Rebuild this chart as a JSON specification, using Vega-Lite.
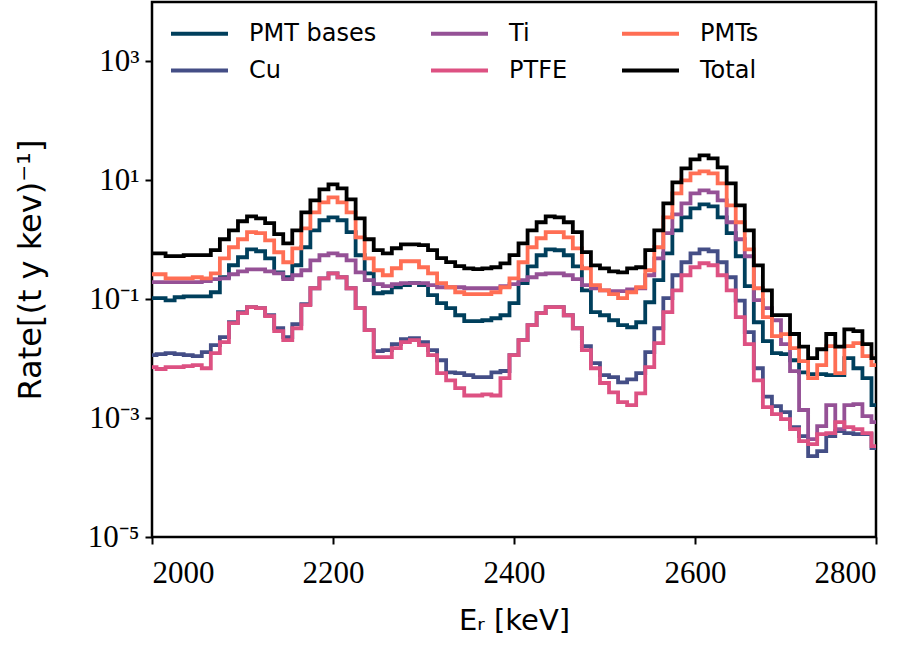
{
"$schema": "https://vega.github.io/schema/vega-lite/v6.json",
"width": 724, "height": 535,
"autosize": {"type": "none"},
"padding": {"left": 152, "top": 2, "right": 36, "bottom": 110},
"background": "white",
"config": {"view": {"stroke": "black", "strokeWidth": 2.5}},
"data": {"values": [
{"E":2000,"PMT bases":0.104,"Cu":0.0115,"Ti":0.194,"PTFE":0.0072,"PMTs":0.263,"Total":0.59},
{"E":2010,"PMT bases":0.104,"Cu":0.0119,"Ti":0.194,"PTFE":0.0067,"PMTs":0.263,"Total":0.59},
{"E":2020,"PMT bases":0.096,"Cu":0.0124,"Ti":0.194,"PTFE":0.0072,"PMTs":0.225,"Total":0.53},
{"E":2030,"PMT bases":0.108,"Cu":0.0119,"Ti":0.194,"PTFE":0.0072,"PMTs":0.225,"Total":0.53},
{"E":2040,"PMT bases":0.112,"Cu":0.0115,"Ti":0.194,"PTFE":0.0075,"PMTs":0.225,"Total":0.55},
{"E":2050,"PMT bases":0.112,"Cu":0.011,"Ti":0.194,"PTFE":0.0078,"PMTs":0.234,"Total":0.55},
{"E":2060,"PMT bases":0.112,"Cu":0.0129,"Ti":0.201,"PTFE":0.0069,"PMTs":0.225,"Total":0.55},
{"E":2070,"PMT bases":0.131,"Cu":0.0169,"Ti":0.217,"PTFE":0.0124,"PMTs":0.273,"Total":0.67},
{"E":2080,"PMT bases":0.234,"Cu":0.023,"Ti":0.225,"PTFE":0.019,"PMTs":0.488,"Total":1.02},
{"E":2090,"PMT bases":0.373,"Cu":0.041,"Ti":0.263,"PTFE":0.0395,"PMTs":0.748,"Total":1.44},
{"E":2100,"PMT bases":0.508,"Cu":0.0605,"Ti":0.295,"PTFE":0.0582,"PMTs":1.02,"Total":2.05},
{"E":2110,"PMT bases":0.692,"Cu":0.0734,"Ti":0.319,"PTFE":0.0734,"PMTs":1.34,"Total":2.48},
{"E":2120,"PMT bases":0.641,"Cu":0.0706,"Ti":0.319,"PTFE":0.0706,"PMTs":1.29,"Total":2.3},
{"E":2130,"PMT bases":0.488,"Cu":0.0538,"Ti":0.295,"PTFE":0.0518,"PMTs":0.98,"Total":1.9},
{"E":2140,"PMT bases":0.284,"Cu":0.0325,"Ti":0.273,"PTFE":0.029,"PMTs":0.617,"Total":1.24},
{"E":2150,"PMT bases":0.234,"Cu":0.023,"Ti":0.217,"PTFE":0.0205,"PMTs":0.419,"Total":0.87},
{"E":2160,"PMT bases":0.373,"Cu":0.038,"Ti":0.253,"PTFE":0.0325,"PMTs":0.719,"Total":1.44},
{"E":2170,"PMT bases":0.748,"Cu":0.0824,"Ti":0.307,"PTFE":0.0793,"PMTs":1.56,"Total":2.9},
{"E":2180,"PMT bases":1.44,"Cu":0.153,"Ti":0.452,"PTFE":0.153,"PMTs":2.9,"Total":4.61},
{"E":2190,"PMT bases":2.13,"Cu":0.225,"Ti":0.549,"PTFE":0.225,"PMTs":4.27,"Total":7.06},
{"E":2200,"PMT bases":2.39,"Cu":0.273,"Ti":0.59,"PTFE":0.273,"PMTs":5.18,"Total":8.57},
{"E":2210,"PMT bases":2.13,"Cu":0.234,"Ti":0.549,"PTFE":0.234,"PMTs":4.27,"Total":7.34},
{"E":2220,"PMT bases":1.34,"Cu":0.153,"Ti":0.452,"PTFE":0.153,"PMTs":2.9,"Total":4.79},
{"E":2230,"PMT bases":0.549,"Cu":0.0706,"Ti":0.284,"PTFE":0.0706,"PMTs":1.1,"Total":2.3},
{"E":2240,"PMT bases":0.273,"Cu":0.0301,"Ti":0.209,"PTFE":0.0301,"PMTs":0.488,"Total":1.02},
{"E":2250,"PMT bases":0.126,"Cu":0.0134,"Ti":0.179,"PTFE":0.0106,"PMTs":0.307,"Total":0.67},
{"E":2260,"PMT bases":0.131,"Cu":0.0139,"Ti":0.166,"PTFE":0.0106,"PMTs":0.253,"Total":0.59},
{"E":2270,"PMT bases":0.159,"Cu":0.0175,"Ti":0.179,"PTFE":0.015,"PMTs":0.332,"Total":0.72},
{"E":2280,"PMT bases":0.172,"Cu":0.0213,"Ti":0.186,"PTFE":0.019,"PMTs":0.435,"Total":0.84},
{"E":2290,"PMT bases":0.186,"Cu":0.0221,"Ti":0.186,"PTFE":0.0205,"PMTs":0.435,"Total":0.84},
{"E":2300,"PMT bases":0.172,"Cu":0.019,"Ti":0.186,"PTFE":0.0169,"PMTs":0.345,"Total":0.81},
{"E":2310,"PMT bases":0.117,"Cu":0.0139,"Ti":0.172,"PTFE":0.0115,"PMTs":0.273,"Total":0.67},
{"E":2320,"PMT bases":0.0857,"Cu":0.0094,"Ti":0.159,"PTFE":0.0057,"PMTs":0.186,"Total":0.49},
{"E":2330,"PMT bases":0.0706,"Cu":0.0059,"Ti":0.159,"PTFE":0.0043,"PMTs":0.159,"Total":0.42},
{"E":2340,"PMT bases":0.0538,"Cu":0.0057,"Ti":0.159,"PTFE":0.0032,"PMTs":0.131,"Total":0.36},
{"E":2350,"PMT bases":0.0427,"Cu":0.0053,"Ti":0.153,"PTFE":0.0024,"PMTs":0.122,"Total":0.33},
{"E":2360,"PMT bases":0.0427,"Cu":0.0049,"Ti":0.153,"PTFE":0.0024,"PMTs":0.122,"Total":0.32},
{"E":2370,"PMT bases":0.0443,"Cu":0.0049,"Ti":0.153,"PTFE":0.0025,"PMTs":0.122,"Total":0.33},
{"E":2380,"PMT bases":0.0479,"Cu":0.0059,"Ti":0.153,"PTFE":0.0024,"PMTs":0.131,"Total":0.345},
{"E":2390,"PMT bases":0.0538,"Cu":0.0062,"Ti":0.166,"PTFE":0.0047,"PMTs":0.159,"Total":0.4},
{"E":2400,"PMT bases":0.0857,"Cu":0.0115,"Ti":0.179,"PTFE":0.0115,"PMTs":0.225,"Total":0.55},
{"E":2410,"PMT bases":0.186,"Cu":0.0205,"Ti":0.209,"PTFE":0.0205,"PMTs":0.419,"Total":0.87},
{"E":2420,"PMT bases":0.358,"Cu":0.0366,"Ti":0.234,"PTFE":0.0366,"PMTs":0.748,"Total":1.44},
{"E":2430,"PMT bases":0.549,"Cu":0.0582,"Ti":0.263,"PTFE":0.0582,"PMTs":1.06,"Total":1.97},
{"E":2440,"PMT bases":0.692,"Cu":0.0734,"Ti":0.273,"PTFE":0.0734,"PMTs":1.34,"Total":2.48},
{"E":2450,"PMT bases":0.666,"Cu":0.0734,"Ti":0.273,"PTFE":0.0734,"PMTs":1.34,"Total":2.39},
{"E":2460,"PMT bases":0.549,"Cu":0.0538,"Ti":0.253,"PTFE":0.0538,"PMTs":1.1,"Total":1.97},
{"E":2470,"PMT bases":0.358,"Cu":0.0325,"Ti":0.217,"PTFE":0.0325,"PMTs":0.719,"Total":1.34},
{"E":2480,"PMT bases":0.141,"Cu":0.0162,"Ti":0.172,"PTFE":0.0139,"PMTs":0.332,"Total":0.62},
{"E":2490,"PMT bases":0.0605,"Cu":0.0084,"Ti":0.153,"PTFE":0.0069,"PMTs":0.172,"Total":0.37},
{"E":2500,"PMT bases":0.0538,"Cu":0.0053,"Ti":0.141,"PTFE":0.0039,"PMTs":0.141,"Total":0.33},
{"E":2510,"PMT bases":0.0443,"Cu":0.0049,"Ti":0.137,"PTFE":0.0027,"PMTs":0.122,"Total":0.295},
{"E":2520,"PMT bases":0.0366,"Cu":0.004,"Ti":0.137,"PTFE":0.00186,"PMTs":0.104,"Total":0.284},
{"E":2530,"PMT bases":0.0338,"Cu":0.0045,"Ti":0.147,"PTFE":0.00166,"PMTs":0.131,"Total":0.33},
{"E":2540,"PMT bases":0.041,"Cu":0.0057,"Ti":0.153,"PTFE":0.0026,"PMTs":0.159,"Total":0.345},
{"E":2550,"PMT bases":0.089,"Cu":0.0129,"Ti":0.253,"PTFE":0.0072,"PMTs":0.307,"Total":0.67},
{"E":2560,"PMT bases":0.209,"Cu":0.0325,"Ti":0.488,"PTFE":0.0182,"PMTs":0.748,"Total":1.44},
{"E":2570,"PMT bases":0.59,"Cu":0.104,"Ti":1.29,"PTFE":0.0605,"PMTs":2.39,"Total":4.1},
{"E":2580,"PMT bases":1.44,"Cu":0.253,"Ti":2.68,"PTFE":0.141,"PMTs":6.05,"Total":9.26},
{"E":2590,"PMT bases":2.39,"Cu":0.419,"Ti":4.1,"PTFE":0.253,"PMTs":10,"Total":15.9},
{"E":2600,"PMT bases":3.38,"Cu":0.59,"Ti":6.05,"PTFE":0.345,"PMTs":13.1,"Total":22.6},
{"E":2610,"PMT bases":3.95,"Cu":0.692,"Ti":6.79,"PTFE":0.403,"PMTs":14.2,"Total":26.3},
{"E":2620,"PMT bases":3.66,"Cu":0.641,"Ti":6.29,"PTFE":0.373,"PMTs":13.1,"Total":23.4},
{"E":2630,"PMT bases":2.39,"Cu":0.419,"Ti":4.61,"PTFE":0.253,"PMTs":8.9,"Total":16.5},
{"E":2640,"PMT bases":1.29,"Cu":0.234,"Ti":1.97,"PTFE":0.141,"PMTs":3.8,"Total":8.9},
{"E":2650,"PMT bases":0.528,"Cu":0.095,"Ti":1.02,"PTFE":0.0498,"PMTs":1.97,"Total":3.8},
{"E":2660,"PMT bases":0.166,"Cu":0.028,"Ti":0.528,"PTFE":0.0175,"PMTs":0.692,"Total":1.44},
{"E":2670,"PMT bases":0.041,"Cu":0.0069,"Ti":0.0962,"PTFE":0.0043,"PMTs":0.153,"Total":0.37},
{"E":2680,"PMT bases":0.0197,"Cu":0.0023,"Ti":0.0706,"PTFE":0.00153,"PMTs":0.0498,"Total":0.141},
{"E":2690,"PMT bases":0.0124,"Cu":0.00159,"Ti":0.0443,"PTFE":0.00117,"PMTs":0.0239,"Total":0.054},
{"E":2700,"PMT bases":0.0119,"Cu":0.00126,"Ti":0.0175,"PTFE":0.00096,"PMTs":0.0258,"Total":0.054},
{"E":2710,"PMT bases":0.0094,"Cu":0.000706,"Ti":0.00617,"PTFE":0.000653,"PMTs":0.015,"Total":0.026},
{"E":2720,"PMT bases":0.0059,"Cu":0.000498,"Ti":0.00137,"PTFE":0.00041,"PMTs":0.0091,"Total":0.016},
{"E":2730,"PMT bases":0.0055,"Cu":0.00023,"Ti":0.000443,"PTFE":0.000366,"PMTs":0.0047,"Total":0.0102},
{"E":2740,"PMT bases":0.0055,"Cu":0.000279,"Ti":0.000734,"PTFE":0.000538,"PMTs":0.0078,"Total":0.0144},
{"E":2750,"PMT bases":0.0053,"Cu":0.000498,"Ti":0.00166,"PTFE":0.000559,"PMTs":0.0162,"Total":0.026},
{"E":2760,"PMT bases":0.0053,"Cu":0.000605,"Ti":0.000653,"PTFE":0.000857,"PMTs":0.0057,"Total":0.016},
{"E":2770,"PMT bases":0.0102,"Cu":0.000559,"Ti":0.00166,"PTFE":0.000706,"PMTs":0.0162,"Total":0.031},
{"E":2780,"PMT bases":0.0069,"Cu":0.000538,"Ti":0.00172,"PTFE":0.000653,"PMTs":0.0182,"Total":0.029},
{"E":2790,"PMT bases":0.0047,"Cu":0.000538,"Ti":0.00108,"PTFE":0.000559,"PMTs":0.011,"Total":0.0175},
{"E":2800,"PMT bases":0.00166,"Cu":0.000313,"Ti":0.000857,"PTFE":0.000338,"PMTs":0.0078,"Total":0.0102}
]},
"transform": [{"fold": ["PMT bases","Cu","Ti","PTFE","PMTs","Total"], "as": ["series","rate"]}],
"mark": {"type": "line", "interpolate": "step", "strokeWidth": 3.8, "clip": true},
"encoding": {
  "x": {"field": "E", "type": "quantitative",
        "scale": {"domain": [2000, 2800], "nice": false, "zero": false},
        "axis": {"values": [2000,2200,2400,2600,2800], "format": "d", "domain": false, "grid": false,
                 "tickColor": "black", "tickWidth": 2, "tickSize": 7,
                 "labelFont": "Liberation Serif", "labelFontSize": 31, "labelColor": "black", "labelPadding": 14,
                 "title": "Eᵣ [keV]", "titleFont": "DejaVu Sans", "titleFontSize": 29, "titleFontWeight": "normal",
                 "titleColor": "black", "titlePadding": 18}},
  "y": {"field": "rate", "type": "quantitative",
        "scale": {"type": "log", "domain": [0.00001, 10000], "nice": false},
        "axis": {"values": [0.00001, 0.001, 0.1, 10, 1000], "domain": false, "grid": false,
                 "tickColor": "black", "tickWidth": 2, "tickSize": 7,
                 "labelFont": "Liberation Serif", "labelFontSize": 31, "labelColor": "black", "labelPadding": 6,
                 "labelExpr": "round(log(datum.value)/LN10) == 3 ? '10³' : round(log(datum.value)/LN10) == 1 ? '10¹' : round(log(datum.value)/LN10) == -1 ? '10⁻¹' : round(log(datum.value)/LN10) == -3 ? '10⁻³' : '10⁻⁵'",
                 "title": "Rate[(t y kev)⁻¹]", "titleFont": "DejaVu Sans", "titleFontSize": 32, "titleFontWeight": "normal",
                 "titleColor": "black", "titlePadding": 40}},
  "color": {"field": "series", "type": "nominal",
            "scale": {"domain": ["PMT bases","Cu","Ti","PTFE","PMTs","Total"],
                      "range": ["#003f5c","#444e86","#955196","#dd5182","#ff6e54","#000000"]},
            "legend": {"orient": "none", "legendX": 31, "legendY": 15, "columns": 3, "columnPadding": 46,
                       "rowPadding": 8, "symbolType": "M-2,0H2", "symbolSize": 812, "symbolStrokeWidth": 4,
                       "labelFont": "DejaVu Sans", "labelFontSize": 24, "labelOffset": 33, "labelColor": "black",
                       "title": null, "padding": 0}}
}
}
